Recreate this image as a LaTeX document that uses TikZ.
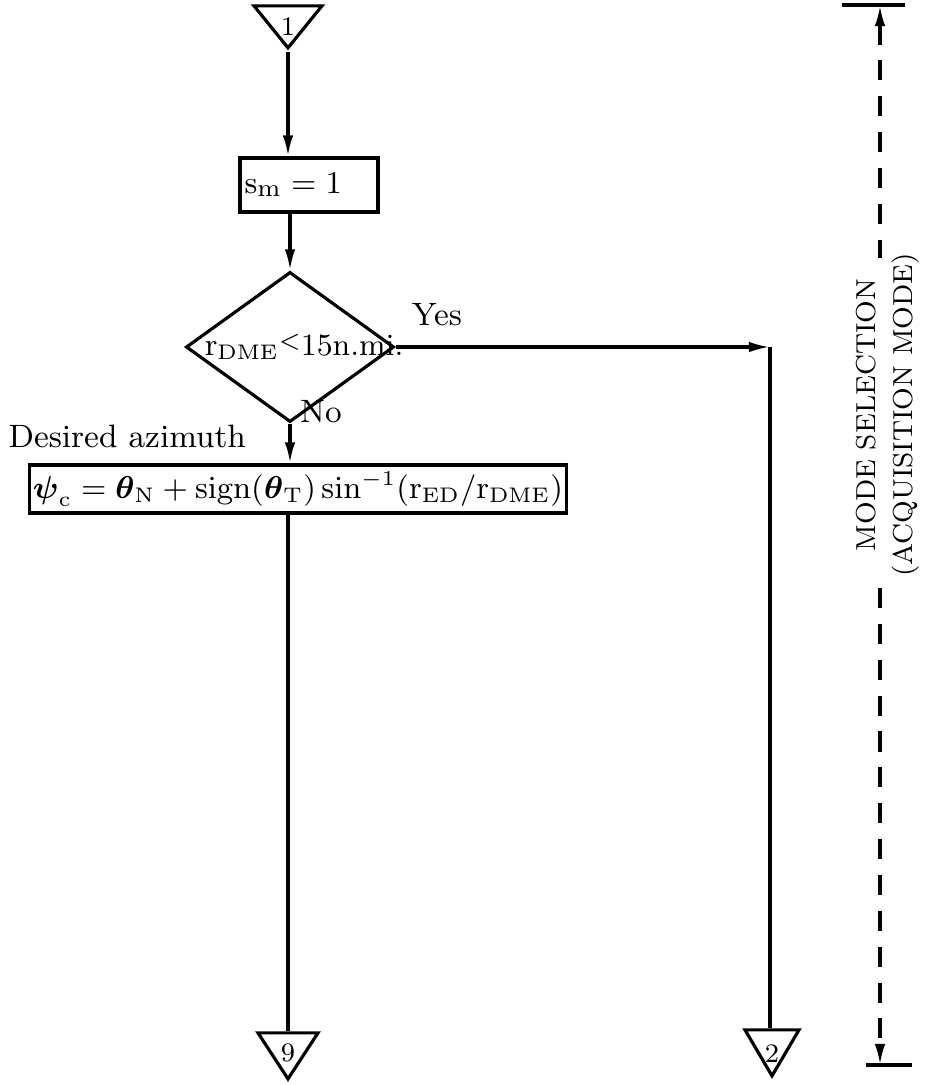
\documentclass[tikz,border=0pt]{standalone}
\usepackage{amsmath}
\usepackage{tikz}
\usetikzlibrary{arrows.meta,positioning,shapes.geometric}
\tikzset{
  flow/.style     ={line width=0.9pt},
  flowarrow/.style={line width=0.9pt,-{Latex[length=6pt,width=3pt]}},
  procbox/.style  ={rectangle,draw,line width=0.9pt,inner sep=0pt,font=\fontsize{9.5}{11}\selectfont},
  decision/.style ={diamond,draw,line width=0.9pt,inner sep=0pt,minimum width=2.08cm,minimum height=1.5cm,font=\fontsize{8.8}{10}\selectfont},
  offpage/.style  ={isosceles triangle,isosceles triangle stretches,shape border rotate=270,draw,line width=0.9pt,
                    inner sep=0pt,minimum width=0.6cm,minimum height=0.46cm},
  offnum/.style   ={inner sep=0pt,font=\fontsize{7.6}{9}\selectfont},
  note/.style     ={inner sep=0pt,font=\fontsize{9.2}{11}\selectfont},
  span/.style     ={inner sep=0pt,rotate=90,font=\fontsize{7.8}{9}\selectfont},
  dimline/.style  ={line width=0.9pt,dash pattern=on 5.7pt off 4.5pt},
}
\begin{document}
\begin{tikzpicture}[x=0.01cm,y=-0.01cm]
  \useasboundingbox (0,0) rectangle (927,1085);
  % main column
  \node[offpage,anchor=apex,minimum width=0.68cm,minimum height=0.42cm] (c1) at (288,52) {};
  \node[offnum,above=0.16cm of c1.apex] (c1n) {1};
  \node[procbox,minimum width=1.38cm,minimum height=0.54cm] (sm) at (309,185) {$\mathrm{s}_{\mathrm{m}} = 1$\hspace*{9pt}};
  \node[decision] (dec) at (290,347) {\makebox[0pt]{\hspace*{8pt}$\mathrm{r}_{\mathrm{DME}}$\raisebox{2pt}{\scriptsize<}15n.mi.}};
  \node[procbox,minimum width=5.37cm,minimum height=0.48cm,font=\fontsize{9.1}{11}\selectfont] (azi) at (298,489)
    {$\boldsymbol{\psi}_{\mathrm{c}} = \boldsymbol{\theta}_{\mathrm{N}} + \mathrm{sign}(\boldsymbol{\theta}_{\mathrm{T}})\,\mathrm{sin}^{-1}(\mathrm{r}_{\mathrm{ED}}/\mathrm{r}_{\mathrm{DME}})$};
  \node[offpage,anchor=apex] (c9) at (288,1083) {};
  \node[offnum,above=0.2cm of c9.apex] (c9n) {9};
  \node[offpage,anchor=apex,minimum width=0.54cm] (c2) at (772,1080) {};
  \node[offnum,above=0.17cm of c2.apex] (c2n) {2};
  \coordinate (yesturn) at (770,347);
  \draw[flowarrow] (c1.apex) -- (c1.apex |- sm.north);
  \draw[flowarrow] (dec.north |- sm.south) -- (dec.north);
  \draw[flowarrow] (dec.south) -- (dec.south |- azi.north);
  \draw[flow] (c9.north |- azi.south) -- (c9.north);
  \draw[flowarrow] (dec.east) -- (yesturn);
  \draw[flow] (yesturn) -- (yesturn |- c2.north);
  \node[note,anchor=base] (yes) at (437,325) {Yes};
  \node[note] (no) at (321,412) {No};
  \node[note,anchor=base west] (desired) at (8,447) {Desired azimuth};
  % span marker
  \coordinate (dimtop) at (880,5);   \coordinate (gaptop) at (880,258);
  \coordinate (dimbot) at (880,1065); \coordinate (gapbot) at (880,588);
  \draw[flow] (842,5) -- (905,5);
  \draw[flow] (866,1065) -- (912,1065);
  \draw[dimline,{Latex[length=6pt,width=3pt]}-] (dimtop) -- (gaptop);
  \draw[dimline,-{Latex[length=6pt,width=3pt]}] (gapbot) -- (dimbot);
  \node[span] (mode) at (866,415) {MODE SELECTION};
  \node[span] (acq) at (906,415) {(ACQUISITION MODE)};
\end{tikzpicture}
\end{document}
